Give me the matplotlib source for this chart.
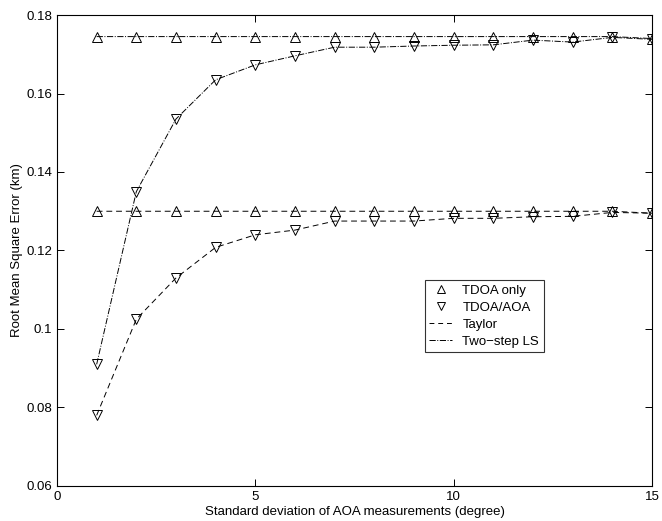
import matplotlib
matplotlib.use("Agg")
import matplotlib.pyplot as plt
from matplotlib.lines import Line2D

plt.rcParams['font.family'] = ['Liberation Sans', 'DejaVu Sans']

# AOA standard deviation (degree)
sigma = list(range(1, 16))

# RMSE (km)
tdoa_ls = [0.1745] * 14 + [0.174]
tdoa_taylor = [0.130] * 14 + [0.1295]
aoa_ls = [0.091, 0.135, 0.1535, 0.1635, 0.1673, 0.1696, 0.1718, 0.1718, 0.1721,
          0.1723, 0.1724, 0.1736, 0.1731, 0.1743, 0.1738]
aoa_taylor = [0.078, 0.1025, 0.113, 0.1208, 0.124, 0.1252, 0.1275, 0.1275, 0.1275,
              0.1282, 0.1282, 0.1286, 0.1287, 0.1297, 0.1295]

fig = plt.figure(figsize=(6.62, 5.21), dpi=100)
ax = fig.add_axes([0.0861, 0.0672, 0.8988, 0.904])

lw = 0.7
ms = 7
ax.plot(sigma, tdoa_ls, color='k', lw=lw, ls='-.', marker='^', ms=ms, mfc='none', mew=0.7)
ax.plot(sigma, tdoa_taylor, color='k', lw=lw, ls=(0, (6, 4)), marker='^', ms=ms, mfc='none', mew=0.7)
ax.plot(sigma, aoa_ls, color='k', lw=lw, ls='-.', marker='v', ms=ms, mfc='none', mew=0.7)
ax.plot(sigma, aoa_taylor, color='k', lw=lw, ls=(0, (6, 4)), marker='v', ms=ms, mfc='none', mew=0.7)

ax.set_xlim(0, 15)
ax.set_ylim(0.06, 0.18)
ax.set_xticks([0, 5, 10, 15])
ax.set_yticks([0.06, 0.08, 0.1, 0.12, 0.14, 0.16, 0.18])
ax.set_yticklabels(['0.06', '0.08', '0.1', '0.12', '0.14', '0.16', '0.18'])
ax.tick_params(direction='in', top=True, right=True, length=5, labelsize=9.5, width=0.7)
for s in ax.spines.values():
    s.set_linewidth(0.8)

ax.set_xlabel('Standard deviation of AOA measurements (degree)', fontsize=9.5, labelpad=2)
ax.set_ylabel('Root Mean Square Error (km)', fontsize=9.5, labelpad=2)

handles = [
    Line2D([], [], color='k', ls='none', marker='^', ms=6, mfc='none', mew=0.7),
    Line2D([], [], color='k', ls='none', marker='v', ms=6, mfc='none', mew=0.7),
    Line2D([], [], color='k', ls=(0, (5, 4)), lw=lw),
    Line2D([], [], color='k', ls='-.', lw=lw),
]
labels = ['TDOA only', 'TDOA/AOA', 'Taylor', 'Two\u2212step LS']
leg = ax.legend(handles, labels, loc='upper left', bbox_to_anchor=(0.618, 0.437),
                fontsize=9.5, frameon=True, fancybox=False, edgecolor='k',
                handlelength=1.7, handletextpad=0.8, borderpad=0.35, labelspacing=0.35,
                borderaxespad=0)
leg.get_frame().set_linewidth(0.8)

fig.savefig('out.png', dpi=100)
